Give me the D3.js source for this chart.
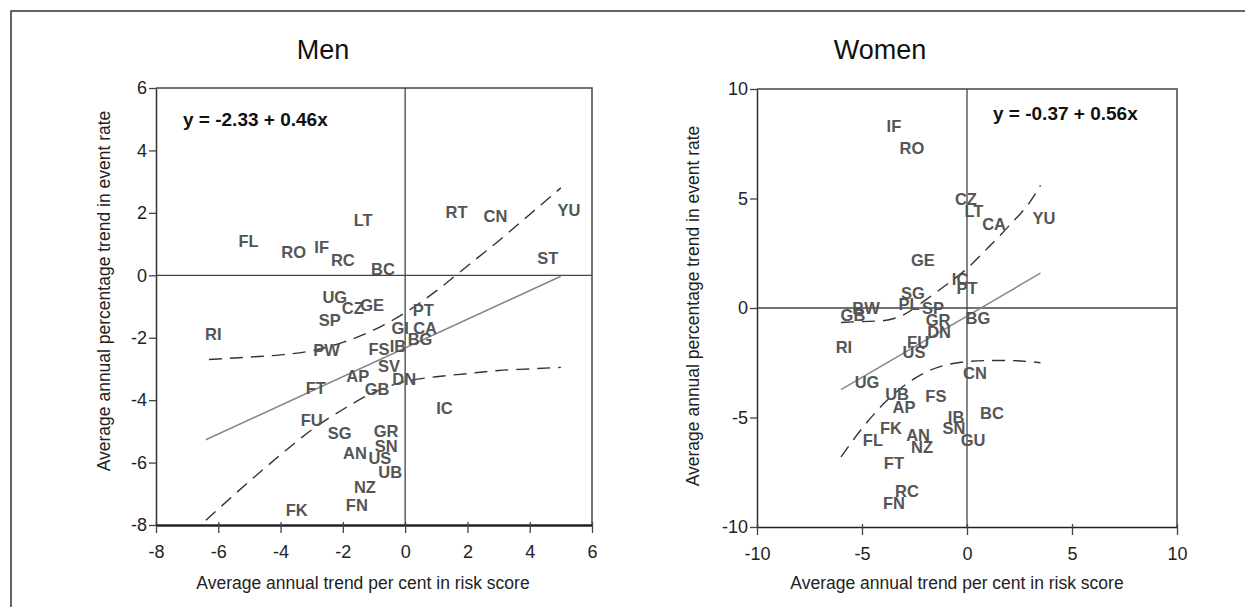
<!DOCTYPE html>
<html>
<head>
<meta charset="utf-8">
<script src="https://cdn.jsdelivr.net/npm/d3@7"></script>
<style>
  body { margin: 0; background: #fff; }
  svg { display: block; font-family: "Liberation Sans", Arial, Helvetica, sans-serif; }
</style>
</head>
<body>
<div id="chart"></div>
<script>
// Men: [country, risk score trend, event rate trend]
const menPoints = [
  ["FL", -5.03, 1.09], ["RO", -3.58, 0.74], ["IF", -2.68, 0.9], ["RC", -2.0, 0.48],
  ["LT", -1.35, 1.77], ["BC", -0.71, 0.19], ["RT", 1.65, 2.02], ["CN", 2.9, 1.9],
  ["YU", 5.26, 2.09], ["ST", 4.58, 0.55], ["UG", -2.26, -0.71], ["CZ", -1.68, -1.06],
  ["GE", -1.06, -0.96], ["SP", -2.42, -1.44], ["RI", -6.16, -1.89], ["PT", 0.58, -1.12],
  ["GI", -0.16, -1.7], ["CA", 0.64, -1.7], ["BG", 0.48, -2.05], ["PW", -2.52, -2.38],
  ["FS", -0.84, -2.35], ["IB", -0.23, -2.28], ["SV", -0.52, -2.92], ["AP", -1.52, -3.24],
  ["DN", -0.03, -3.31], ["FT", -2.87, -3.6], ["GB", -0.9, -3.63], ["IC", 1.26, -4.24],
  ["FU", -3.0, -4.65], ["SG", -2.1, -5.04], ["GR", -0.61, -5.0], ["SN", -0.61, -5.46],
  ["AN", -1.61, -5.68], ["US", -0.81, -5.87], ["UB", -0.48, -6.29], ["NZ", -1.29, -6.77],
  ["FN", -1.55, -7.35], ["FK", -3.48, -7.51]
];
const menFit = [[-6.4, -5.27], [5.0, -0.03]];
const menUpper = [[-6.3, -2.7], [-5, -2.62], [-4, -2.55], [-3, -2.42], [-2, -2.15], [-1, -1.75],
  [0, -1.2], [1, -0.5], [2, 0.3], [3, 1.1], [4, 1.95], [5, 2.8]];
const menLower = [[-6.4, -7.85], [-5, -6.6], [-4, -5.75], [-3, -4.95], [-2, -4.3], [-1, -3.75],
  [0, -3.4], [1, -3.25], [2, -3.15], [3, -3.05], [4, -3.0], [5, -2.95]];
const menTicks = [-8, -6, -4, -2, 0, 2, 4, 6];

// Women
const womenPoints = [
  ["IF", -3.48, 8.3], ["RO", -2.62, 7.3], ["CZ", -0.05, 4.98], ["LT", 0.33, 4.43],
  ["CA", 1.29, 3.84], ["YU", 3.67, 4.11], ["GE", -2.1, 2.2], ["IC", -0.33, 1.34],
  ["PT", 0.0, 0.89], ["SG", -2.57, 0.66], ["PL", -2.76, 0.16], ["SP", -1.62, -0.02],
  ["BW", -4.81, 0.02], ["GB", -5.43, -0.34], ["GR", -1.38, -0.57], ["DN", -1.33, -1.11],
  ["BG", 0.52, -0.48], ["RI", -5.86, -1.8], ["FU", -2.33, -1.57], ["US", -2.52, -2.02],
  ["CN", 0.38, -2.98], ["UG", -4.76, -3.39], ["UB", -3.33, -3.93], ["FS", -1.48, -4.02],
  ["AP", -3.0, -4.52], ["BC", 1.19, -4.8], ["IB", -0.52, -4.98], ["SN", -0.62, -5.48],
  ["FK", -3.62, -5.48], ["FL", -4.48, -6.02], ["AN", -2.33, -5.8], ["GU", 0.29, -6.02],
  ["NZ", -2.14, -6.34], ["FT", -3.48, -7.07], ["RC", -2.86, -8.34], ["FN", -3.48, -8.89]
];
const womenFit = [[-6.0, -3.73], [3.5, 1.59]];
const womenUpper = [[-6, -0.66], [-5, -0.62], [-4, -0.58], [-3, -0.3], [-2, 0.35], [-1, 1.05],
  [0, 1.8], [1, 2.75], [2, 3.75], [3, 4.85], [3.5, 5.6]];
const womenLower = [[-6, -6.8], [-5, -5.5], [-4, -4.4], [-3, -3.55], [-2, -2.95], [-1, -2.6],
  [0, -2.45], [1, -2.4], [2, -2.4], [3, -2.45], [3.5, -2.5]];
const womenTicks = [-10, -5, 0, 5, 10];

const xTitle = "Average annual trend per cent in risk score";
const yTitle = "Average annual percentage trend in event rate";

const W = 1245, H = 607;
const svg = d3.select("#chart").append("svg").attr("width", W).attr("height", H);

// outer frame
svg.append("rect").attr("x", 11).attr("y", 11).attr("width", W).attr("height", H)
  .attr("fill", "none").attr("stroke", "#333").attr("stroke-width", 1.5);

function drawPanel(p) {
  const x = d3.scaleLinear().domain(p.domain).range([p.left, p.right]);
  const y = d3.scaleLinear().domain(p.domain).range([p.bottom, p.top]);
  const g = svg.append("g");

  // title
  g.append("text").attr("x", p.titleX).attr("y", 59).attr("text-anchor", "middle")
    .style("font-size", "27px").attr("fill", "#111").text(p.title);

  // frame top/right
  g.append("path")
    .attr("d", `M${p.left},${p.top}H${p.right}V${p.bottom}`)
    .attr("fill", "none").attr("stroke", "#444").attr("stroke-width", 1.5);

  // zero lines
  g.append("line").attr("x1", x(0)).attr("x2", x(0)).attr("y1", p.top).attr("y2", p.bottom)
    .attr("stroke", "#444").attr("stroke-width", 1.3);
  g.append("line").attr("x1", p.left).attr("x2", p.right).attr("y1", y(0)).attr("y2", y(0))
    .attr("stroke", "#444").attr("stroke-width", 1.3);

  // axes
  const ax = g.append("g").attr("transform", `translate(0,${p.bottom})`)
    .call(d3.axisBottom(x).tickValues(p.ticks).tickSize(8).tickSizeOuter(0).tickPadding(12));
  ax.select(".domain").attr("stroke", "#222").attr("stroke-width", p.boldBottom ? 2.6 : 1.5);
  ax.selectAll(".tick line").attr("y1", -3).attr("stroke", "#444").attr("stroke-width", 1.3);
  ax.selectAll(".tick text").style("font-size", "18px").attr("fill", "#222")
    .text(d => d < 0 ? "-" + Math.abs(d) : d);

  const ay = g.append("g").attr("transform", `translate(${p.left},0)`)
    .call(d3.axisLeft(y).tickValues(p.ticks).tickSize(7).tickSizeOuter(0).tickPadding(2));
  ay.select(".domain").attr("stroke", "#333").attr("stroke-width", 1.5);
  ay.selectAll(".tick line").attr("stroke", "#444").attr("stroke-width", 1.3);
  ay.selectAll(".tick text").style("font-size", "18px").attr("fill", "#222")
    .text(d => d < 0 ? "-" + Math.abs(d) : d);

  // axis titles
  g.append("text").attr("x", p.xTitleX).attr("y", 589).attr("text-anchor", "middle")
    .style("font-size", "17.5px").attr("fill", "#222").text(xTitle);
  g.append("text").attr("transform", `translate(${p.yTitleX},${p.yTitleY}) rotate(-90)`)
    .attr("text-anchor", "middle").style("font-size", "17.5px").attr("fill", "#222").text(yTitle);

  // lines
  const line = d3.line().x(d => x(d[0])).y(d => y(d[1])).curve(d3.curveMonotoneX);
  g.append("path").datum(p.fit).attr("d", line).attr("fill", "none")
    .attr("stroke", "#888").attr("stroke-width", 1.5);
  [p.upper, p.lower].forEach(band => {
    g.append("path").datum(band).attr("d", line).attr("fill", "none")
      .attr("stroke", "#333").attr("stroke-width", 1.4).attr("stroke-dasharray", "13,8");
  });

  // country labels
  g.selectAll(".pt").data(p.points).enter().append("text")
    .attr("x", d => x(d[1])).attr("y", d => y(d[2])).attr("dy", "0.36em")
    .attr("text-anchor", "middle").style("font-size", "16.5px").style("font-weight", "bold")
    .attr("fill", "#555").text(d => d[0]);

  // equation
  g.append("text").attr("x", p.eqX).attr("y", p.eqY).attr("dy", "0.36em")
    .style("font-size", "19px").style("font-weight", "bold").attr("fill", "#111").text(p.eq);
}

drawPanel({
  title: "Men", titleX: 323, domain: [-8, 6], ticks: menTicks,
  left: 156, right: 592, top: 88, bottom: 525, boldBottom: true,
  points: menPoints, fit: menFit, upper: menUpper, lower: menLower,
  eq: "y = -2.33 + 0.46x", eqX: 183, eqY: 119,
  xTitleX: 363, yTitleX: 110, yTitleY: 291
});

drawPanel({
  title: "Women", titleX: 880, domain: [-10, 10], ticks: womenTicks,
  left: 757, right: 1177, top: 89, bottom: 527, boldBottom: false,
  points: womenPoints, fit: womenFit, upper: womenUpper, lower: womenLower,
  eq: "y = -0.37 + 0.56x", eqX: 993, eqY: 113,
  xTitleX: 957, yTitleX: 699, yTitleY: 306
});
</script>
</body>
</html>
